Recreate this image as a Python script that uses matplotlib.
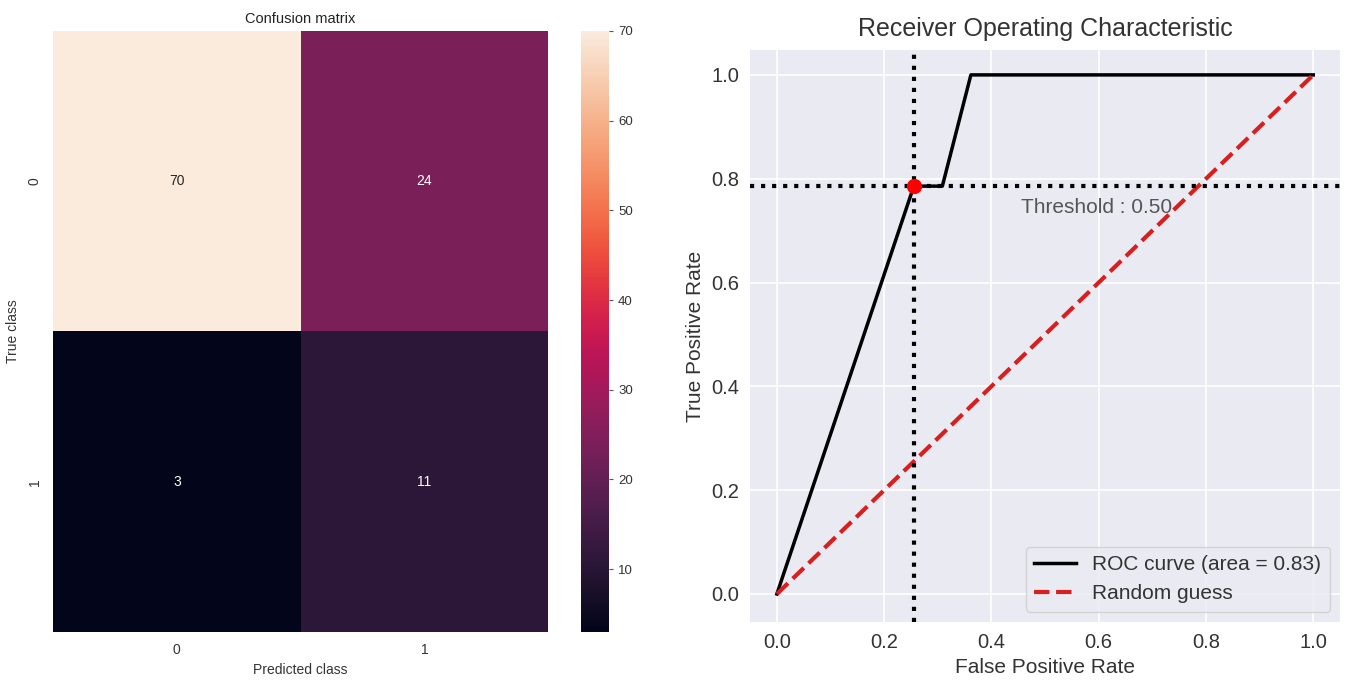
import numpy as np
import matplotlib
matplotlib.use("Agg")
import matplotlib.pyplot as plt
import seaborn as sns

# ---- data ----
cm_values = [[70, 24], [3, 11]]
class_labels = ["0", "1"]
cbar_ticks = [10, 20, 30, 40, 50, 60, 70]

roc_fpr = [0.0, 0.2553, 0.3085, 0.3617, 1.0]
roc_tpr = [0.0, 0.7857, 0.7857, 1.0, 1.0]
roc_auc = 0.83
thr_fpr = 0.2553
thr_tpr = 0.7857
thr_value = 0.50
guess_x = [0.0, 1.0]
guess_y = [0.0, 1.0]
roc_ticks = [0.0, 0.2, 0.4, 0.6, 0.8, 1.0]

plt.rcParams['font.family'] = ['Liberation Sans', 'DejaVu Sans']

fig = plt.figure(figsize=(13.49, 6.81), dpi=100)
fig.patch.set_facecolor('white')

# ---- left: confusion matrix heatmap ----
ax1 = fig.add_axes([0.0393, 0.072, 0.367, 0.8825])
cax = fig.add_axes([0.4307, 0.072, 0.0208, 0.8825])
sns.heatmap(np.array(cm_values), annot=True, fmt='d', cmap='rocket',
            ax=ax1, cbar_ax=cax, xticklabels=class_labels,
            yticklabels=class_labels, annot_kws={'fontsize': 10})
ax1.set_title("Confusion matrix", fontsize=10.5, color='#222222', pad=6)
ax1.set_xlabel("Predicted class", fontsize=10, color='#333333')
ax1.set_ylabel("True class", fontsize=10, color='#333333', labelpad=6)
ax1.tick_params(axis='both', length=0, labelsize=10, labelcolor='#333333', pad=8)
for lbl in ax1.get_yticklabels():
    lbl.set_rotation(90)
    lbl.set_va('center')
cax.set_yticks(cbar_ticks)
cax.tick_params(labelsize=9.5, labelcolor='#333333', length=3, color='#555555')
for s in cax.spines.values():
    s.set_visible(False)

# ---- right: ROC curve ----
ax2 = fig.add_axes([0.556, 0.0866, 0.4374, 0.84])
ax2.set_facecolor('#EAEAF2')
ax2.grid(True, color='white', linewidth=1.2)
ax2.set_axisbelow(True)
for s in ax2.spines.values():
    s.set_visible(False)

ax2.plot(roc_fpr, roc_tpr, color='black', lw=2.5,
         label='ROC curve (area = %0.2f)' % roc_auc)
ax2.plot(guess_x, guess_y, color='#d91e1e', lw=3, ls='--', label='Random guess')
ax2.axvline(thr_fpr, color='black', ls=':', lw=3)
ax2.axhline(thr_tpr, color='black', ls=':', lw=3)
ax2.plot([thr_fpr], [thr_tpr], 'o', color='red', markersize=10, zorder=5)
ax2.text(0.455, 0.745, 'Threshold : %0.2f' % thr_value, fontsize=15,
         color='#555555', va='center', ha='left')

ax2.set_xlim(-0.05, 1.05)
ax2.set_ylim(-0.054, 1.048)
ax2.set_xticks(roc_ticks)
ax2.set_yticks(roc_ticks)
ax2.tick_params(axis='both', length=0, labelsize=14.5, labelcolor='#333333', pad=8)
ax2.set_xlabel('False Positive Rate', fontsize=15, color='#333333')
ax2.set_ylabel('True Positive Rate', fontsize=15, color='#333333')
ax2.set_title('Receiver Operating Characteristic', fontsize=18, color='#333333', pad=10)
leg = ax2.legend(loc='lower right', fontsize=15, frameon=True, facecolor='#EAEAF2',
                 edgecolor='#cccccc', handlelength=2.0)
leg.get_frame().set_linewidth(1.0)
for t in leg.get_texts():
    t.set_color('#333333')

fig.savefig('out.png', dpi=100)
